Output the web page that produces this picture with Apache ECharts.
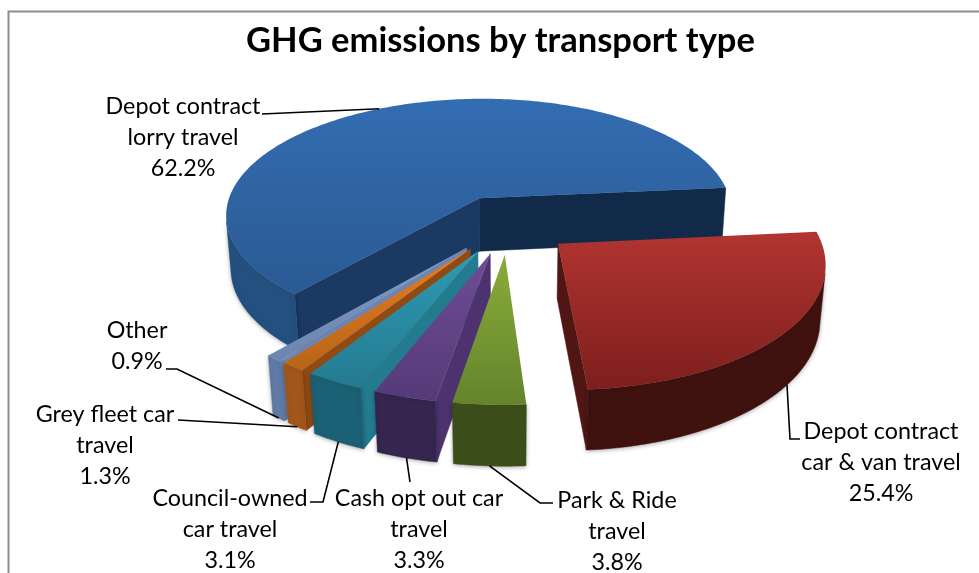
<!DOCTYPE html>
<html>
<head>
<meta charset="utf-8">
<style>html,body{margin:0;padding:0;background:#fff}#c{width:979px;height:573px}</style>
<script src="https://cdn.jsdelivr.net/npm/echarts@6/dist/echarts.min.js"></script>
</head>
<body>
<div id="c"></div>
<script>
const titleText = 'GHG emissions by transport type';
// clockwise from the first slice angle
const categories = ['Depot contract\ncar & van travel', 'Park & Ride\ntravel', 'Cash opt out car\ntravel', 'Council-owned\ncar travel', 'Grey fleet car\ntravel', 'Other', 'Depot contract\nlorry travel'];
const values = [25.4, 3.8, 3.3, 3.1, 1.3, 0.9, 62.2];

const FIRST_ANGLE = 5.5, R = 258, EXPLODE = 64, H = -62;
const cx = 508, cy = 224, D = 1650, sinT = 0.465, cosT = Math.sqrt(1 - sinT * sinT);
const drawOrder = [6, 0, 5, 4, 3, 2, 1];

const looks = [
  {top: ['#b23431', '#7d1f1d'], outer: '#3f1210', startWall: '#3f1210', endWall: '#501614'},
  {top: ['#8aac3a', '#65832c'], outer: '#3c4f1b', startWall: '#4c6422', endWall: '#4c6422'},
  {top: ['#6e4c96', '#553a78'], outer: '#35254f', startWall: '#4c3370', endWall: '#35254f'},
  {top: ['#2f9ab4', '#237a90'], outer: '#1b6074', startWall: '#237b90', endWall: '#1b6074'},
  {top: ['#e67e20', '#b9641a'], outer: '#a2561a', startWall: '#904b14', endWall: '#a2561a'},
  {top: ['#8199c6', '#6c86b0'], outer: '#607ba6', startWall: '#6c86b0', endWall: '#607ba6'},
  {top: ['#336db2', '#2a5a92'], outer: '#24507f', startWall: '#1a3a63', endWall: '#122a4a'}
];
// label block centre x, first line y, leader elbows (screen layout)
const labelLayout = [
  {x: 881, y: 431, elbow: [[790, 439], [800, 439]], anchor: 'bottom', nudge: 3},
  {x: 617, y: 500, elbow: [[540, 503], [553, 503]], anchor: 'bottom', nudge: 0},
  {x: 419, y: 498, elbow: [[410, 482]], anchor: 'bottom', nudge: 0},
  {x: 230, y: 498, elbow: [[323, 502], [310, 502]], anchor: 'bottom', nudge: 0},
  {x: 105, y: 414, elbow: [[178, 420]], anchor: 'bottom', nudge: 0},
  {x: 137, y: 330, elbow: [[177, 369], [166, 369]], anchor: 'bottom', nudge: 0},
  {x: 183, y: 106, elbow: [[262, 114]], anchor: 'top', nudge: 0}
];

const rad = a => a * Math.PI / 180;
const dir = a => [Math.cos(rad(a)), Math.sin(rad(a))];
function proj(X, Y, Z) {
  const k = D / (D + Y * cosT - Z * sinT);
  return [cx + X * k, cy - (Y * sinT + Z * cosT) * k];
}
const total = values.reduce((s, v) => s + v, 0);
let running = FIRST_ANGLE;
const slices = values.map((v, i) => {
  const aStart = running, aEnd = running - v / total * 360;
  running = aEnd;
  const m = dir((aStart + aEnd) / 2);
  return {i, aStart, aEnd, aMid: (aStart + aEnd) / 2, ox: m[0] * EXPLODE, oy: m[1] * EXPLODE};
});
function faces(n, p) { return n[0] * (0 - p[0]) + n[1] * (-D * cosT - p[1]) > 0; }
function ring(s, a, z) { const d = dir(a); return proj(s.ox + R * d[0], s.oy + R * d[1], z); }

function slicePieces(s) {
  const look = looks[s.i], out = [];
  const poly = (points, fill, extra) => out.push({type: 'polygon', shape: {points},
    style: Object.assign({fill, stroke: fill, lineWidth: 0.5}, extra || {})});
  const apexT = proj(s.ox, s.oy, 0), apexB = proj(s.ox, s.oy, H);
  const radial = (a, nA, fill) => {
    const d = dir(a), p = [s.ox + R * d[0] / 2, s.oy + R * d[1] / 2];
    if (faces(dir(nA), p)) poly([apexT, ring(s, a, 0), ring(s, a, H), apexB], fill);
  };
  radial(s.aStart, s.aStart + 90, look.startWall);
  radial(s.aEnd, s.aEnd - 90, look.endWall);
  // visible run of the curved outer wall
  const topPts = [], botPts = [], steps = Math.max(3, Math.ceil(s.aStart - s.aEnd));
  for (let j = 0; j <= steps; j++) {
    const a = s.aStart + (s.aEnd - s.aStart) * j / steps, d = dir(a);
    if (faces(d, [s.ox + R * d[0], s.oy + R * d[1]])) { topPts.push(ring(s, a, 0)); botPts.push(ring(s, a, H)); }
  }
  if (topPts.length > 1) poly(topPts.concat(botPts.reverse()), look.outer,
    {shadowBlur: 4, shadowColor: 'rgba(0,0,0,0.3)', shadowOffsetY: 1});
  const arc = [apexT];
  for (let j = 0; j <= steps; j++) arc.push(ring(s, s.aStart + (s.aEnd - s.aStart) * j / steps, 0));
  poly(arc, {type: 'linear', x: 0, y: 0, x2: 0, y2: 1, colorStops: [
    {offset: 0, color: look.top[0]}, {offset: 1, color: look.top[1]}]}, {stroke: null, lineWidth: 0});
  return out;
}
function labelPieces(s) {
  const L = labelLayout[s.i], a = s.aMid + L.nudge;
  const end = L.anchor === 'top' ? ring(s, a, 0) : ring(s, a, H);
  const lines = [end].concat(L.elbow);
  const text = categories[s.i] + '\n' + values[s.i].toFixed(1) + '%';
  return [
    {type: 'polyline', shape: {points: lines}, style: {fill: null, stroke: '#000', lineWidth: 1.6}},
    {type: 'text', x: L.x, y: L.y - 15.5, style: {text, fill: '#000', align: 'center', verticalAlign: 'top',
      font: '23.3px Lato, "Open Sans", sans-serif', lineHeight: 31}}
  ];
}
const chart = echarts.init(document.getElementById('c'), null, {renderer: 'canvas'});
chart.setOption({
  animation: false,
  backgroundColor: '#fff',
  title: {text: titleText, left: 241, top: 18, itemGap: 0,
    textStyle: {fontFamily: 'Lato', fontWeight: 'bold', fontSize: 34.5, color: '#000'}},
  graphic: [{type: 'rect', z: -1, shape: {x: 8.5, y: 11.5, width: 975, height: 570},
    style: {fill: '#fff', stroke: '#8c8c8c', lineWidth: 2}}],
  series: [
    {type: 'custom', coordinateSystem: 'none', data: drawOrder, z: 2,
      renderItem: (p) => ({type: 'group', children: slicePieces(slices[drawOrder[p.dataIndex]])})},
    {type: 'custom', coordinateSystem: 'none', data: drawOrder, z: 3, silent: true,
      renderItem: (p) => ({type: 'group', children: labelPieces(slices[drawOrder[p.dataIndex]])})}
  ]
});
</script>
</body>
</html>
